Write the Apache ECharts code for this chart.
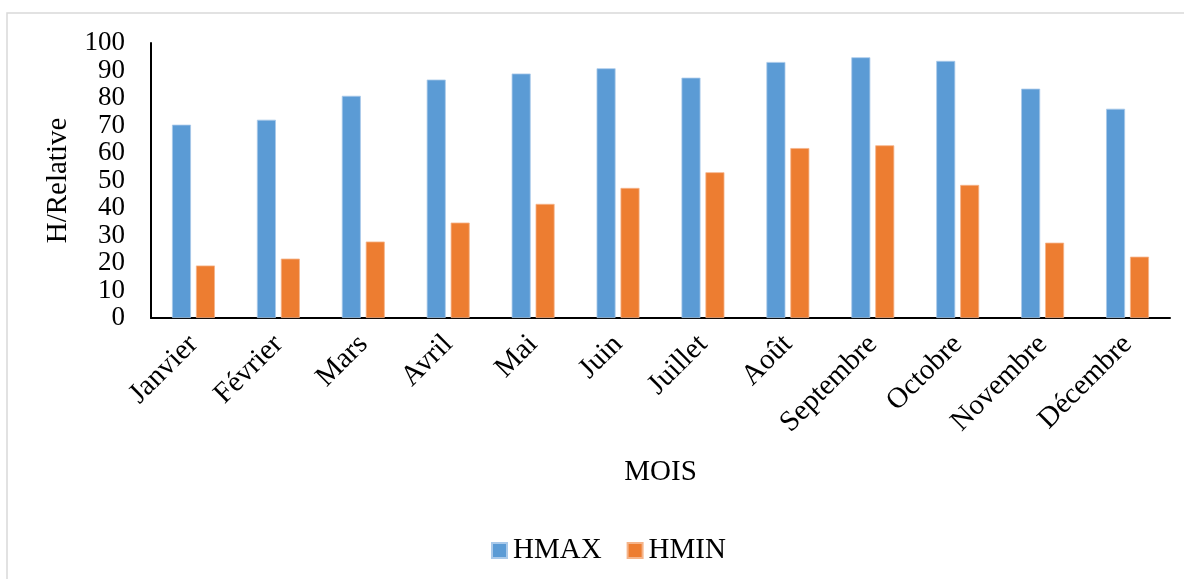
<!DOCTYPE html>
<html>
<head>
<meta charset="utf-8">
<script src="https://cdn.jsdelivr.net/npm/echarts@6/dist/echarts.min.js"></script>
<style>
  html, body { margin: 0; padding: 0; background: #ffffff; }
  #chart { width: 1184px; height: 579px; }
</style>
</head>
<body>
<div id="chart"></div>
<script>
// Monthly relative humidity: maximum and minimum
const months = ['Janvier', 'Février', 'Mars', 'Avril', 'Mai', 'Juin', 'Juillet', 'Août', 'Septembre', 'Octobre', 'Novembre', 'Décembre'];
const hmax = [70.3, 72.1, 80.8, 86.7, 88.9, 90.8, 87.4, 93.1, 94.8, 93.5, 83.4, 76.1];
const hmin = [19.1, 21.6, 27.8, 34.7, 41.5, 47.3, 53.0, 61.8, 62.8, 48.4, 27.4, 22.3];

const serif = '"Liberation Serif", "DejaVu Serif", serif';
const txt = { fontFamily: serif, fontSize: 29, color: '#000000' };

const chart = echarts.init(document.getElementById('chart'), null, { renderer: 'canvas' });

chart.setOption({
  backgroundColor: '#ffffff',
  animation: false,
  textStyle: { fontFamily: serif },
  graphic: [{
    type: 'rect',
    shape: { x: 7, y: 13, width: 1300, height: 700 },
    style: { fill: 'none', stroke: '#d9d9d9', lineWidth: 1.5 },
    silent: true
  }],
  grid: { left: 151, right: 14, top: 43, bottom: 261, containLabel: false },
  legend: {
    data: ['HMAX', 'HMIN'],
    left: 486,
    top: 531,
    icon: 'rect',
    itemWidth: 15,
    itemHeight: 15,
    itemGap: 25,
    textStyle: Object.assign({}, txt, { padding: [0, 0, 0, 1] })
  },
  xAxis: {
    type: 'category',
    data: months,
    name: 'MOIS',
    nameLocation: 'middle',
    nameGap: 140,
    nameTextStyle: txt,
    axisLine: { lineStyle: { color: '#000000', width: 2 } },
    axisTick: { show: false },
    axisLabel: Object.assign({}, txt, { rotate: 45, margin: 22, interval: 0, hideOverlap: false })
  },
  yAxis: {
    type: 'value',
    min: 0,
    max: 100,
    interval: 10,
    name: 'H/Relative',
    nameLocation: 'middle',
    nameGap: 78,
    nameTextStyle: txt,
    axisLine: { show: true, lineStyle: { color: '#000000', width: 2 } },
    axisTick: { show: false },
    splitLine: { show: false },
    axisLabel: Object.assign({}, txt, { fontSize: 27, margin: 26 })
  },
  series: [
    {
      name: 'HMAX',
      type: 'bar',
      data: hmax,
      barWidth: 19,
      barGap: '26%',
      itemStyle: { color: '#5B9BD5', borderColor: '#a9c9ea', borderWidth: 0.8 }
    },
    {
      name: 'HMIN',
      type: 'bar',
      data: hmin,
      barWidth: 19,
      itemStyle: { color: '#ED7D31', borderColor: '#f5b48a', borderWidth: 0.8 }
    }
  ]
});
</script>
</body>
</html>
